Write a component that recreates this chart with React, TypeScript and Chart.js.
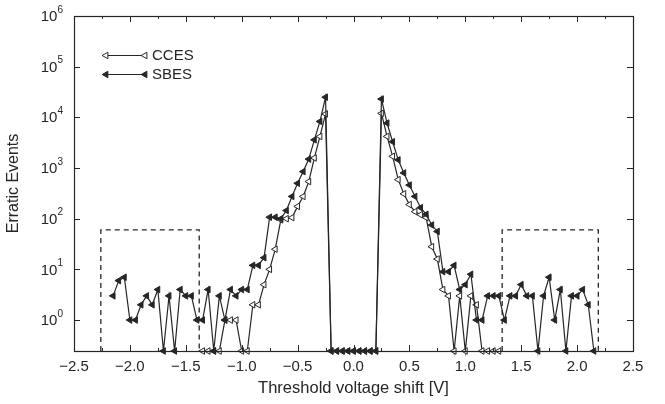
import React, { useEffect, useRef } from 'react';
import { Chart, registerables } from 'chart.js';

Chart.register(...registerables);

// ---- data (threshold voltage shift [V] -> erratic event counts; 0 = no events) ----
const sbesVoltage = [
  -2.15, -2.1, -2.05, -2.0, -1.95, -1.9, -1.85, -1.8, -1.75, -1.7, -1.65, -1.6, -1.55, -1.5, -1.45, -1.4,
  -1.35, -1.3, -1.25, -1.2, -1.15, -1.1, -1.05, -1.0, -0.95, -0.9, -0.85, -0.8, -0.75, -0.7, -0.65, -0.6,
  -0.55, -0.5, -0.45, -0.4, -0.35, -0.3, -0.25,
  -0.2, -0.15, -0.1, -0.05, 0.0, 0.05, 0.1, 0.15, 0.2,
  0.25, 0.3, 0.35, 0.4, 0.45, 0.5, 0.55, 0.6, 0.65, 0.7, 0.75, 0.8, 0.85, 0.9, 0.95, 1.0,
  1.05, 1.1, 1.15, 1.2, 1.25, 1.3, 1.35, 1.4, 1.45, 1.5, 1.55, 1.6, 1.65, 1.7, 1.75, 1.8,
  1.85, 1.9, 1.95, 2.0, 2.05, 2.1, 2.15,
];
const sbesEvents = [
  3, 6, 7, 1, 1, 2, 3, 2, 4, 0, 3, 0, 4, 3, 3, 1,
  1, 4, 0, 3, 1, 4, 3, 4, 4, 12, 12, 17, 107, 107, 100, 145,
  275, 500, 850, 1500, 3600, 8300, 25000,
  0, 0, 0, 0, 0, 0, 0, 0, 0,
  23000, 7700, 3300, 1450, 800, 460, 275, 165, 122, 75, 56, 9, 9, 12, 4, 5,
  8, 1, 1, 3, 3, 3, 1, 3, 3, 5, 3, 3, 0, 3, 7, 1,
  4, 0, 3, 3, 4, 2, 0,
];
const ccesVoltage = [
  -1.35, -1.3, -1.25, -1.2, -1.15, -1.1, -1.05, -1.0, -0.95, -0.9, -0.85, -0.8, -0.75, -0.7, -0.65, -0.6,
  -0.55, -0.5, -0.45, -0.4, -0.35, -0.3, -0.25,
  -0.2, -0.15, -0.1, -0.05, 0.0, 0.05, 0.1, 0.15, 0.2,
  0.25, 0.3, 0.35, 0.4, 0.45, 0.5, 0.55, 0.6, 0.65, 0.7, 0.75, 0.8, 0.85, 0.9, 0.95, 1.0,
  1.05, 1.1, 1.15, 1.2, 1.25, 1.3,
];
const ccesEvents = [
  0, 0, 0, 0, 1, 1, 1, 0, 0, 2, 2, 5, 10, 25, 95, 100,
  105, 175, 275, 540, 1580, 4200, 11700,
  0, 0, 0, 0, 0, 0, 0, 0, 0,
  12000, 4200, 1700, 590, 310, 190, 138, 120, 105, 28, 16, 4, 3, 0, 3, 0,
  3, 2, 0, 0, 0, 0,
];
// dashed windows
const leftWindow = [-2.26, -1.38];
const rightWindow = [1.33, 2.19];
const windowTop = 60;

const yExponents = [0, 1, 2, 3, 4, 5, 6];
const xTickValues = [-2.5, -2.0, -1.5, -1.0, -0.5, 0.0, 0.5, 1.0, 1.5, 2.0, 2.5];
const legendItems = ['CCES', 'SBES'];

const Y_MIN = 0.245;
const Y_MAX = 1e6;
const FONT = '"Liberation Sans", Arial, Helvetica, sans-serif';
const INK = '#262626';

const toPoints = (xs: number[], ys: number[]) =>
  xs.map((x, i) => ({ x, y: ys[i] > 0 ? ys[i] : Y_MIN }));

const windowPoints = (w: number[]) => [
  { x: w[0], y: Y_MIN },
  { x: w[0], y: windowTop },
  { x: w[1], y: windowTop },
  { x: w[1], y: Y_MIN },
];

function triangleLeft(ctx: CanvasRenderingContext2D, x: number, y: number, r: number, filled: boolean) {
  ctx.beginPath();
  ctx.moveTo(x - r, y);
  ctx.lineTo(x + r * 0.5, y - r * 0.866);
  ctx.lineTo(x + r * 0.5, y + r * 0.866);
  ctx.closePath();
  ctx.fillStyle = filled ? INK : '#ffffff';
  ctx.fill();
  ctx.strokeStyle = INK;
  ctx.lineWidth = 1;
  ctx.stroke();
}

const framePlugin = {
  id: 'frame',
  afterDraw(chart: any) {
    const { ctx, chartArea: a, scales } = chart;
    const xs = scales.x;
    const ys = scales.y;
    ctx.save();
    ctx.strokeStyle = INK;
    ctx.lineWidth = 1.2;
    ctx.strokeRect(Math.round(a.left) + 0.5, Math.round(a.top) + 0.5, Math.round(a.right - a.left), Math.round(a.bottom - a.top));

    // x ticks, inward, on bottom and top
    ctx.lineWidth = 1;
    ctx.beginPath();
    for (let k = -10; k <= 10; k++) {
      const v = k * 0.25;
      const px = Math.round(xs.getPixelForValue(v)) + 0.5;
      const len = k % 2 === 0 ? 6 : 3;
      ctx.moveTo(px, a.bottom);
      ctx.lineTo(px, a.bottom - len);
      ctx.moveTo(px, a.top);
      ctx.lineTo(px, a.top + len);
    }
    // y ticks on left and right
    for (const e of yExponents) {
      const py = Math.round(ys.getPixelForValue(Math.pow(10, e))) + 0.5;
      ctx.moveTo(a.left, py);
      ctx.lineTo(a.left + 6, py);
      ctx.moveTo(a.right, py);
      ctx.lineTo(a.right - 6, py);
    }
    ctx.stroke();

    // y labels 10^n
    ctx.fillStyle = INK;
    ctx.textBaseline = 'middle';
    ctx.textAlign = 'right';
    const rightEdge = a.left - 11;
    for (const e of yExponents) {
      const py = ys.getPixelForValue(Math.pow(10, e));
      ctx.font = `10px ${FONT}`;
      const ew = ctx.measureText(String(e)).width;
      ctx.fillText(String(e), rightEdge, py - 6);
      ctx.font = `15px ${FONT}`;
      ctx.fillText('10', rightEdge - ew, py + 1);
    }

    // legend
    const lx0 = a.left + 32;
    const lx1 = a.left + 71;
    legendItems.forEach((name, i) => {
      const ly = a.top + 39 + i * 19;
      ctx.beginPath();
      ctx.strokeStyle = INK;
      ctx.lineWidth = 1.2;
      ctx.moveTo(lx0, ly + 0.5);
      ctx.lineTo(lx1, ly + 0.5);
      ctx.stroke();
      const filled = name === 'SBES';
      triangleLeft(ctx, lx0, ly + 0.5, 3.8, filled);
      triangleLeft(ctx, lx1, ly + 0.5, 3.8, filled);
      ctx.fillStyle = INK;
      ctx.font = `15px ${FONT}`;
      ctx.textAlign = 'left';
      ctx.textBaseline = 'middle';
      ctx.fillText(name, lx1 + 7, ly + 1);
    });
    ctx.restore();
  },
};

export default function App() {
  const canvasRef = useRef<HTMLCanvasElement | null>(null);

  useEffect(() => {
    if (!canvasRef.current) return;
    const seriesStyle = {
      showLine: true,
      borderColor: INK,
      borderWidth: 1.2,
      pointStyle: 'triangle',
      rotation: -90,
      pointRadius: 3.8,
      pointBorderWidth: 1,
      pointBorderColor: INK,
      clip: false,
    };
    const windowStyle = {
      showLine: true,
      borderColor: INK,
      borderWidth: 1.3,
      borderDash: [5, 4],
      pointRadius: 0,
      clip: false,
    };
    const chart = new Chart(canvasRef.current, {
      type: 'scatter',
      data: {
        datasets: [
          { label: 'SBES', data: toPoints(sbesVoltage, sbesEvents), ...seriesStyle, pointBackgroundColor: INK } as any,
          { label: 'CCES', data: toPoints(ccesVoltage, ccesEvents), ...seriesStyle, pointBackgroundColor: '#ffffff' } as any,
          { label: 'window-left', data: windowPoints(leftWindow), ...windowStyle } as any,
          { label: 'window-right', data: windowPoints(rightWindow), ...windowStyle } as any,
        ],
      },
      options: {
        animation: false,
        responsive: false,
        maintainAspectRatio: false,
        layout: { padding: { top: 16, right: 32, left: 0, bottom: 0 } },
        plugins: { legend: { display: false }, tooltip: { enabled: false } },
        scales: {
          x: {
            type: 'linear',
            min: -2.5,
            max: 2.5,
            grid: { display: false, drawTicks: false },
            border: { display: false },
            afterBuildTicks: (s: any) => {
              s.ticks = xTickValues.map((v) => ({ value: v }));
            },
            afterFit: (s: any) => {
              s.height = 53;
            },
            ticks: {
              color: INK,
              font: { family: FONT, size: 15 },
              padding: 7,
              maxRotation: 0,
              callback: (v: any) => {
                const n = Number(v);
                const t = Math.abs(n).toFixed(1);
                return n < 0 ? '\u2212' + t : t;
              },
            },
            title: {
              display: true,
              text: 'Threshold voltage shift [V]',
              color: INK,
              font: { family: FONT, size: 16.5 },
              padding: { top: 0, bottom: 6 },
            },
          },
          y: {
            type: 'logarithmic',
            min: Y_MIN,
            max: Y_MAX,
            grid: { display: false },
            border: { display: false },
            ticks: { display: false },
            afterFit: (s: any) => {
              s.width = 74;
            },
            title: {
              display: true,
              text: 'Erratic Events',
              color: INK,
              font: { family: FONT, size: 16 },
              padding: { top: 4, bottom: 0 },
            },
          },
        },
      },
      plugins: [framePlugin],
    });
    return () => chart.destroy();
  }, []);

  return (
    <div style={{ position: 'fixed', left: 0, top: 0, width: 665, height: 404, background: '#ffffff' }}>
      <canvas ref={canvasRef} width={665} height={404} style={{ width: 665, height: 404, display: 'block' }} />
    </div>
  );
}
